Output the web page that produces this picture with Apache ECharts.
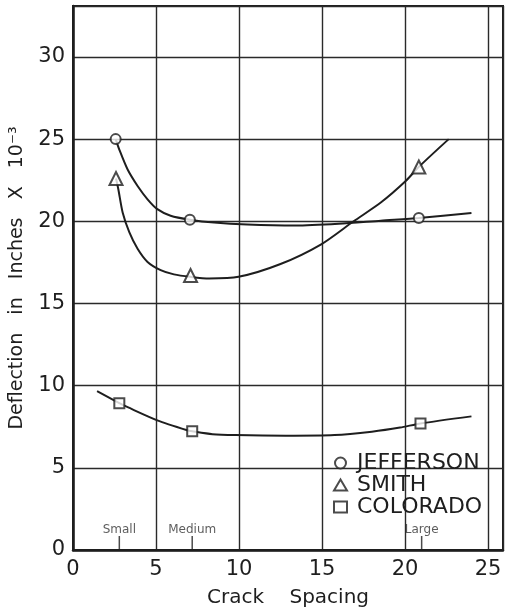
<!DOCTYPE html>
<html>
<head>
<meta charset="utf-8">
<script src="https://cdn.jsdelivr.net/npm/echarts@6/dist/echarts.min.js"></script>
<style>
  html, body { margin: 0; padding: 0; background: #fff; }
  #chart { width: 506px; height: 613px; }
</style>
</head>
<body>
<div id="chart"></div>
<script>
// Measured deflections (x = crack spacing, y = deflection in inches x 10^-3)
const jeffersonPoints = [[2.57, 25.0], [7.04, 20.1], [20.83, 20.2]];
const smithPoints     = [[2.59, 22.6], [7.08, 16.7], [20.83, 23.3]];
const coloradoPoints  = [[2.79, 8.93], [7.18, 7.23], [20.93, 7.7]];

// Hand-fitted curves through each set of points
const jeffersonCurve = [[2.57, 25.0], [2.79, 24.36], [3.29, 23.15], [3.89, 22.15], [4.49, 21.34],
  [5.08, 20.74], [5.88, 20.34], [7.04, 20.1], [8.5, 19.92], [10.5, 19.8], [13.4, 19.74],
  [16.0, 19.85], [18.54, 20.04], [20.83, 20.2], [24.0, 20.5]];
const smithCurve = [[2.59, 22.6], [2.73, 21.95], [2.99, 20.54], [3.39, 19.34], [3.89, 18.33],
  [4.49, 17.53], [5.28, 17.03], [6.08, 16.77], [7.08, 16.62], [8.2, 16.52], [9.97, 16.62],
  [12.5, 17.4], [14.95, 18.6], [16.9, 20.0], [18.54, 21.14], [20.04, 22.45], [20.83, 23.31],
  [22.63, 25.0]];
const coloradoCurve = [[1.45, 9.66], [2.79, 8.93], [3.29, 8.69], [5.08, 7.89], [6.88, 7.29],
  [7.18, 7.23], [8.4, 7.05], [9.77, 6.99], [12.8, 6.95], [15.75, 6.99], [18.0, 7.2],
  [19.7, 7.45], [20.93, 7.7], [24.0, 8.13]];

// Crack spacing classes marked along the x axis
const spacingClasses = ['Small', 'Medium', 'Large'];
const spacingPositions = [2.79, 7.18, 21.0];

const xTicks = [0, 5, 10, 15, 20, 25];
const yTicks = [0, 5, 10, 15, 20, 25, 30];

const ink = '#1e1e1e';
const font = 'DejaVu Sans';

const curveSeries = (name, data) => ({
  name: name,
  type: 'line',
  data: data,
  smooth: 0.25,
  showSymbol: false,
  symbol: 'none',
  lineStyle: { color: ink, width: 2 },
  z: 2,
  silent: true
});

const pointSeries = (name, data, symbol, size) => ({
  name: name,
  type: 'scatter',
  data: data,
  symbol: symbol,
  symbolSize: size,
  itemStyle: { color: '#fff', borderColor: ink, borderWidth: 2 },
  z: 4
});

const chart = echarts.init(document.getElementById('chart'), null, { renderer: 'canvas' });

chart.setOption({
  backgroundColor: '#fff',
  animation: false,
  grid: {
    left: 72, right: 3, top: 6, bottom: 57,
    show: true, borderColor: ink, borderWidth: 2, backgroundColor: 'transparent'
  },
  legend: {
    data: ['JEFFERSON', 'SMITH', 'COLORADO'],
    orient: 'vertical',
    left: 328, top: 447,
    itemWidth: 13, itemHeight: 11, itemGap: 0,
    textStyle: { fontFamily: font, fontSize: 22, color: ink, padding: [0, 0, 0, 5] },
    backgroundColor: 'transparent',
    inactiveColor: ink
  },
  xAxis: {
    type: 'value',
    min: 0, max: 25.9, interval: 5,
    name: 'Crack    Spacing',
    nameLocation: 'middle',
    nameGap: 38,
    nameTextStyle: { fontFamily: font, fontSize: 20, color: ink },
    axisLine: { show: true, lineStyle: { color: ink, width: 2.5 } },
    axisTick: { show: false },
    splitLine: { show: true, lineStyle: { color: '#2a2a2a', width: 1.4 } },
    axisLabel: {
      fontFamily: font, fontSize: 21, color: ink, margin: 9,
      formatter: v => (xTicks.includes(v) ? String(v) : '')
    }
  },
  yAxis: {
    type: 'value',
    min: 0, max: 33.1, interval: 5,
    name: 'Deflection   in   Inches   X   10⁻³',
    nameLocation: 'middle',
    nameGap: 46,
    nameTextStyle: { fontFamily: font, fontSize: 19, color: ink },
    axisLine: { show: true, lineStyle: { color: ink, width: 2.5 } },
    axisTick: { show: false },
    splitLine: { show: true, lineStyle: { color: '#2a2a2a', width: 1.4 } },
    axisLabel: {
      fontFamily: font, fontSize: 21, color: ink, margin: 8,
      formatter: v => (yTicks.includes(v) ? String(v) : '')
    }
  },
  series: [
    curveSeries('Jefferson fit', jeffersonCurve),
    curveSeries('Smith fit', smithCurve),
    curveSeries('Colorado fit', coloradoCurve),
    pointSeries('JEFFERSON', jeffersonPoints, 'circle', 10),
    pointSeries('SMITH', smithPoints, 'triangle', 13),
    pointSeries('COLORADO', coloradoPoints, 'rect', 10),
    {
      name: 'Spacing class',
      type: 'scatter',
      data: spacingClasses.map((c, i) => ({ name: c, value: [spacingPositions[i], 0] })),
      symbol: 'rect',
      symbolSize: [1.5, 14],
      symbolOffset: [0, -7],
      itemStyle: { color: ink },
      label: {
        show: true,
        position: 'top',
        distance: 0,
        formatter: p => p.name,
        fontFamily: font,
        fontSize: 12,
        color: '#333'
      },
      z: 3,
      silent: true
    }
  ]
});
</script>
</body>
</html>
